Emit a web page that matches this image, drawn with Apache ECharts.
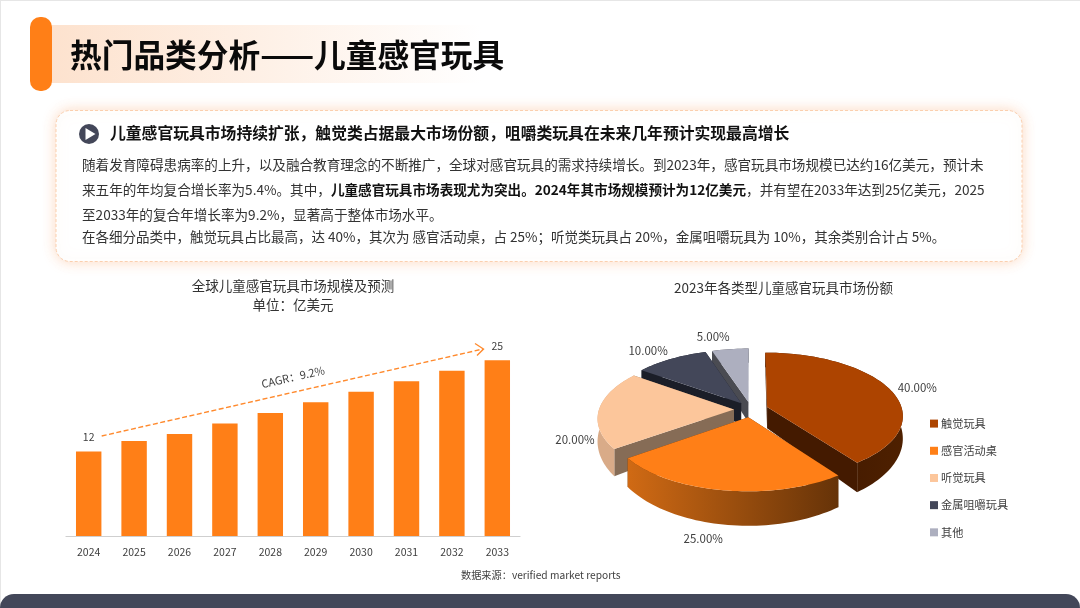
<!DOCTYPE html>
<html>
<head>
<meta charset="utf-8">
<title>热门品类分析——儿童感官玩具</title>
<style>
html,body{margin:0;padding:0;background:#fff;}
#main{width:1080px;height:608px;}
</style>
<script src="https://cdn.jsdelivr.net/npm/echarts@6/dist/echarts.min.js"></script>
</head>
<body>
<div id="main"></div>
<script>
// 柱状图数据
var years = ['2024','2025','2026','2027','2028','2029','2030','2031','2032','2033'];
var marketSize = [12,13.5,14.5,16,17.5,19,20.5,22,23.5,25];
// 饼图数据
var toyTypes = ['触觉玩具','感官活动桌','听觉玩具','金属咀嚼玩具','其他'];
var toyShares = [40,25,20,10,5];

// 饼图颜色
var topColors = ['#AD4400','#FF7F17','#FCC69B','#434759','#ADAFBF'];
var edgeColors = ['#441A00','#5E3008','#866C56','#1B1E28','#4A4B52'];
var rimColors = [['#3A1500','#4E2000'],['#D06A14','#663308'],['#D9AB88','#D9AB88'],['#1B1E28','#1B1E28'],['#4A4B52','#4A4B52']];
// 画的先后：后面的盖住前面的
var paintRank = [3,4,2,1,0];
var labelNudge = [[28,-1],[-20,48],[-24,30],[-23,-8],[-17,-13]];

var FONT = '"Noto Sans CJK SC","Noto Sans",sans-serif';

// 3D饼图的投影参数
var pieCx = 751, pieCy = 409.5, pieR = 135, pieTilt = 0.46, piePersp = 0.13, pieDepth = 21.5, pieGap = 17;

function project(x, y, down) {
	var k = 1 / (1 + piePersp * y / pieR);
	return [pieCx + x * k, pieCy - y * pieTilt * k + (down ? pieDepth * k * k * k : 0)];
}

function renderSlice(index) {
	return function () {
		var total = 0, before = 0;
		for (var i = 0; i < toyShares.length; i++) {
			total += toyShares[i];
			if (i < index) before += toyShares[i];
		}
		var a0 = before / total * Math.PI * 2;
		var a1 = (before + toyShares[index]) / total * Math.PI * 2;
		var mid = (a0 + a1) / 2;
		var sx = Math.sin(mid) * pieGap, sy = Math.cos(mid) * pieGap;

		var topArc = [], lowArc = [];
		var steps = Math.max(6, Math.round((a1 - a0) / 0.03));
		for (var s = 0; s <= steps; s++) {
			var a = a0 + (a1 - a0) * s / steps;
			var px = sx + Math.sin(a) * pieR, py = sy + Math.cos(a) * pieR;
			topArc.push(project(px, py, false));
			lowArc.push(project(px, py, true));
		}
		var apexTop = project(sx, sy, false);
		var apexLow = project(sx, sy, true);

		var children = [];
		// 两个切面
		children.push({type:'polygon', silent:true, shape:{points:[apexTop, topArc[0], lowArc[0], apexLow]}, style:{fill:edgeColors[index]}});
		children.push({type:'polygon', silent:true, shape:{points:[apexTop, topArc[steps], lowArc[steps], apexLow]}, style:{fill:edgeColors[index]}});
		// 外侧弧面
		children.push({type:'polygon', silent:true, shape:{points:topArc.concat(lowArc.slice().reverse())}, style:{
			fill:new echarts.graphic.LinearGradient(0,0,1,0,[{offset:0,color:rimColors[index][0]},{offset:1,color:rimColors[index][1]}])
		}});
		// 顶面
		children.push({type:'polygon', silent:true, shape:{points:[apexTop].concat(topArc)}, style:{fill:topColors[index]}});

		// 百分比标签
		var lp = project(sx + Math.sin(mid) * pieR, sy + Math.cos(mid) * pieR, false);
		children.push({type:'text', silent:true, x:lp[0] + labelNudge[index][0], y:lp[1] + labelNudge[index][1], style:{
			text:toyShares[index].toFixed(2) + '%', textAlign:'center', textVerticalAlign:'middle', fill:'#404040', font:'11.5px ' + FONT
		}});
		return {type:'group', children:children};
	};
}

// 饼图每块一个series，图例才能按品类显示
var seriesArray = [{
	type:'bar',
	data:marketSize,
	barWidth:'56%',
	itemStyle:{color:'#FF7F17'},
	silent:true,
	label:{
		show:true,
		position:'top',
		distance:9,
		fontSize:10.5,
		color:'#404040',
		formatter:function (p) {
			return (p.dataIndex == 0 || p.dataIndex == years.length - 1) ? p.value : '';
		}
	}
}];
for (var n = 0; n < toyTypes.length; n++) {
	seriesArray.push({
		type:'custom',
		name:toyTypes[n],
		coordinateSystem:'none',
		z:10 + paintRank[n],
		silent:true,
		data:[toyShares[n]],
		itemStyle:{color:topColors[n]},
		renderItem:renderSlice(n)
	});
}

// 正文文字
var headline = '儿童感官玩具市场持续扩张，触觉类占据最大市场份额，咀嚼类玩具在未来几年预计实现最高增长';
var bodyRich = {
	n:{fontSize:13.6, fontFamily:FONT, fill:'#333333', color:'#333333'},
	m:{fontSize:13.5, fontFamily:FONT, fill:'#333333', color:'#333333'},
	b:{fontSize:13.6, fontFamily:FONT, fontWeight:'bold', fill:'#111111', color:'#111111'}
};
function bodyLine(y, text) {
	return {type:'text', z:3, silent:true, x:82, y:y, style:{text:text, rich:bodyRich, fill:'#333', textVerticalAlign:'middle'}};
}

var graphicList = [
	// 边线
	{type:'rect', z:0, silent:true, shape:{x:0,y:0,width:1080,height:1}, style:{fill:'#E6E6E6'}},
	{type:'rect', z:0, silent:true, shape:{x:0,y:0,width:1,height:608}, style:{fill:'#E6E6E6'}},
	// 标题
	{type:'rect', z:0, silent:true, shape:{x:51,y:25,width:430,height:58}, style:{
		fill:new echarts.graphic.LinearGradient(0,0,1,0,[{offset:0,color:'#FDE2CE'},{offset:1,color:'#FFFFFF'}])
	}},
	{type:'rect', z:1, silent:true, shape:{x:30,y:17,width:22,height:74,r:10}, style:{fill:'#FF7F17'}},
	{type:'text', z:2, silent:true, x:70, y:55, style:{text:'热门品类分析——儿童感官玩具', font:'bold 31.7px ' + FONT, fill:'#0A0A0A', textVerticalAlign:'middle'}},
	// 文字框
	{type:'rect', z:1, silent:true, shape:{x:56,y:110.5,width:966,height:151,r:14}, style:{
		fill:'#FFFFFF', stroke:'#FBCFAE', lineWidth:1, lineDash:[3,2],
		shadowBlur:14, shadowColor:'rgba(250,170,120,0.45)'
	}},
	{type:'circle', z:2, silent:true, shape:{cx:89,cy:134,r:10}, style:{fill:'#434759'}},
	{type:'polygon', z:3, silent:true, shape:{points:[[85.5,128],[85.5,140],[95.5,134]]}, style:{fill:'#FFFFFF'}},
	{type:'text', z:3, silent:true, x:110, y:133, style:{text:headline, font:'bold 15.8px ' + FONT, fill:'#111111', textVerticalAlign:'middle'}},
	bodyLine(165, '{n|随着发育障碍患病率的上升，以及融合教育理念的不断推广，全球对感官玩具的需求持续增长。到2023年，感官玩具市场规模已达约16亿美元，预计未}'),
	bodyLine(190, '{n|来五年的年均复合增长率为5.4%。其中，}{b|儿童感官玩具市场表现尤为突出。2024年其市场规模预计为12亿美元}{n|，并有望在2033年达到25亿美元，2025}'),
	bodyLine(215, '{n|至2033年的复合年增长率为9.2%，显著高于整体市场水平。}'),
	bodyLine(237, '{m|在各细分品类中，触觉玩具占比最高，达 40%，其次为 感官活动桌，占 25%；听觉类玩具占 20%，金属咀嚼玩具为 10%，其余类别合计占 5%。}'),
	// CAGR箭头
	{type:'line', z:5, silent:true, shape:{x1:101.7,y1:436,x2:483,y2:349}, style:{stroke:'#FF8A2E', lineWidth:1.4, lineDash:[5,2.5]}},
	{type:'polyline', z:5, silent:true, shape:{points:[[475,343.5],[483.5,349],[477,355.5]]}, style:{stroke:'#FF8A2E', lineWidth:1.4, fill:'none'}},
	{type:'text', z:5, silent:true, x:293, y:377, rotation:12.8 * Math.PI / 180, style:{text:'CAGR：9.2%', font:'11px ' + FONT, fill:'#404040', textAlign:'center', textVerticalAlign:'middle'}},
	// 数据来源
	{type:'text', z:5, silent:true, x:461, y:575, style:{text:'数据来源：verified market reports', font:'10.2px ' + FONT, fill:'#404040', textVerticalAlign:'middle'}},
	// 底部色条
	{type:'rect', z:1, silent:true, shape:{x:0,y:594,width:1080,height:30,r:14}, style:{fill:'#434759'}}
];

var myChart = echarts.init(document.getElementById('main'));
var option = {
	animation:false,
	backgroundColor:'#FFFFFF',
	textStyle:{fontFamily:FONT},
	title:[{
		text:'全球儿童感官玩具市场规模及预测\n单位：亿美元',
		left:288, top:271, textAlign:'center',
		textStyle:{fontSize:13.5, fontWeight:'normal', color:'#333333', lineHeight:19.5}
	},{
		text:'2023年各类型儿童感官玩具市场份额',
		left:778.5, top:273, textAlign:'center',
		textStyle:{fontSize:13.5, fontWeight:'normal', color:'#333333', lineHeight:19.5}
	}],
	legend:{
		data:toyTypes,
		orient:'vertical',
		left:925, top:413,
		icon:'rect',
		itemWidth:8, itemHeight:8, itemGap:16,
		selectedMode:false,
		textStyle:{fontSize:11.2, color:'#404040', padding:[0,0,0,-2]}
	},
	grid:{left:66, top:325, width:454, height:211},
	xAxis:{
		type:'category',
		data:years,
		axisLine:{lineStyle:{color:'#CFCFCF', width:1.2}},
		axisTick:{show:false},
		axisLabel:{fontSize:10.5, color:'#404040', margin:11}
	},
	yAxis:{type:'value', min:0, max:30, show:false},
	series:seriesArray,
	graphic:graphicList
};
myChart.setOption(option);
</script>
</body>
</html>
